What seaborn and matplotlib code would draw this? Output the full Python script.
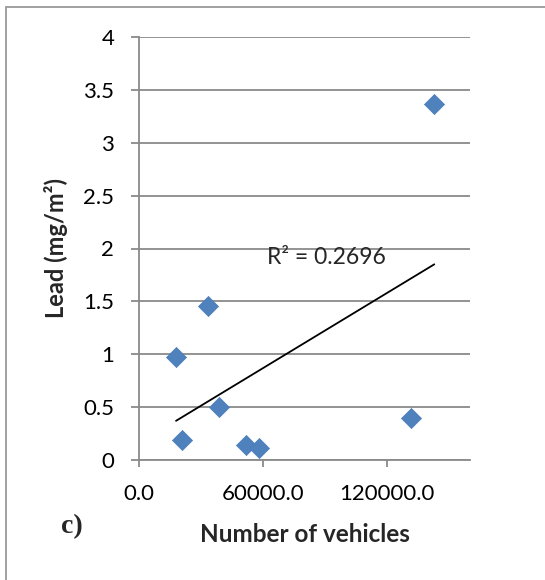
import numpy as np
import pandas as pd
import matplotlib
matplotlib.use("Agg")
import matplotlib.pyplot as plt
import seaborn as sns
from matplotlib.patches import Rectangle

# ---- data ----
vehicles = [17900, 20970, 33550, 38870, 51770, 58230, 131450, 142740]
lead = [0.97, 0.19, 1.46, 0.50, 0.14, 0.11, 0.40, 3.37]
x_ticks = [0, 60000, 120000]
x_tick_labels = ["0.0", "60000.0", "120000.0"]
y_ticks = [0, 0.5, 1, 1.5, 2, 2.5, 3, 3.5, 4]
y_tick_labels = ["0", "0.5", "1", "1.5", "2", "2.5", "3", "3.5", "4"]
r2_label = "R\u00b2 = 0.2696"
x_label = "Number of vehicles"
y_label = "Lead (mg/m\u00b2)"
panel_label = "c)"

df = pd.DataFrame({"vehicles": vehicles, "lead": lead})

sns.set_theme(style="white")
plt.rcParams["font.family"] = ["Lato", "DejaVu Sans"]

W, H = 545, 580
fig = plt.figure(figsize=(W / 100, H / 100), dpi=100)
fig.patch.set_facecolor("white")
ax = fig.add_axes([139 / W, 1 - 460 / H, (470 - 139) / W, (460 - 37) / H])

grid_c = "#8a8a8a"

sns.regplot(data=df, x="vehicles", y="lead", ax=ax, scatter=False, ci=None,
            truncate=True, color="black", line_kws={"linewidth": 1.3, "zorder": 3})
sns.scatterplot(data=df, x="vehicles", y="lead", ax=ax, marker="D", s=105,
                color="#4F81BD", edgecolor="#4A7EBB", linewidth=0.5, zorder=4)

ax.set_xlim(0, 160000)
ax.set_ylim(0, 4)
ax.set_xticks(x_ticks)
ax.set_xticklabels(x_tick_labels)
ax.set_yticks(y_ticks)
ax.set_yticklabels(y_tick_labels)

ax.yaxis.grid(True, color=grid_c, linewidth=1.3)
ax.xaxis.grid(False)
ax.set_axisbelow(True)

for s in ["top", "right"]:
    ax.spines[s].set_visible(False)
for s in ["left", "bottom"]:
    ax.spines[s].set_color(grid_c)
    ax.spines[s].set_linewidth(1.3)

ax.tick_params(axis="y", which="major", left=True, length=5.8, width=1.3,
               color=grid_c, pad=12, labelsize=16, labelcolor="black")
ax.tick_params(axis="x", which="major", bottom=True, length=5, width=1.3,
               color=grid_c, pad=12, labelsize=16, labelcolor="black")

ax.set_xlabel("")
ax.set_ylabel("")
fig.text((139 + 470) / 2 / W, 1 - 535 / H, x_label, ha="center", va="center",
         fontsize=17.5, fontweight="bold")
fig.text(56 / W, 1 - 248 / H, y_label, ha="center", va="center", rotation=90,
         fontsize=17, fontweight="bold")
fig.text(72 / W, 1 - 527 / H, panel_label, ha="center", va="center",
         fontsize=20, fontweight="bold", family=["Liberation Serif", "DejaVu Serif"])

ax.text((267 - 139) / (470 - 139), (460 - 258) / (460 - 37), r2_label,
        transform=ax.transAxes, ha="left", va="center", fontsize=16.5)

fig.patches.append(Rectangle((5.5 / W, -0.1), 1.2, (1 - 7 / H) + 0.1,
                             transform=fig.transFigure, fill=False,
                             edgecolor="#9a9a9a", linewidth=1.3))

fig.savefig("out.png", dpi=100)
